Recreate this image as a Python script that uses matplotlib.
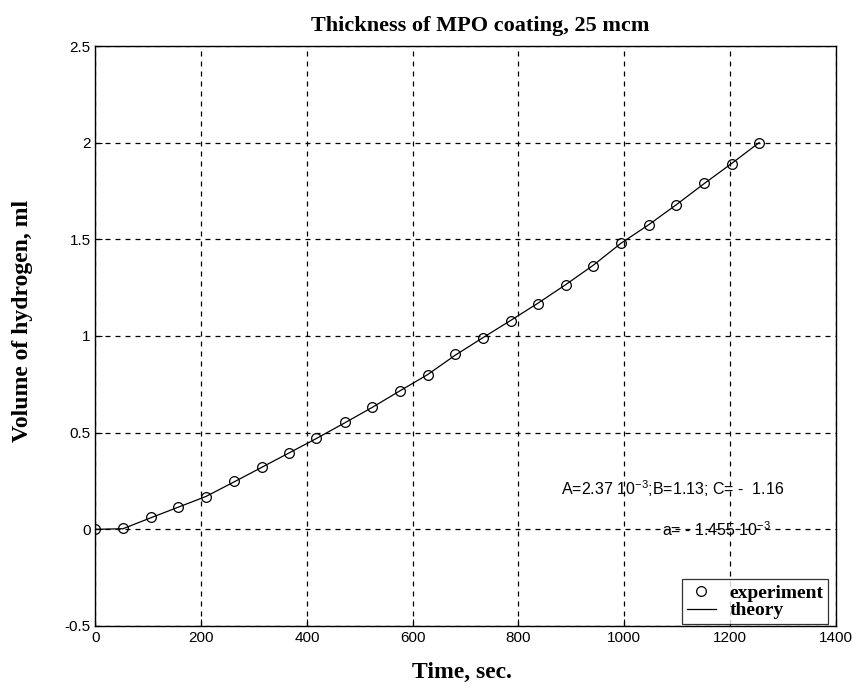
import matplotlib.pyplot as plt
import numpy as np

# time, sec.
time_s = [0, 52, 105, 157, 209, 262, 314, 366, 418, 471, 523, 575, 628,
          680, 732, 785, 837, 889, 941, 994, 1046, 1098, 1151, 1203, 1255]
# measured volume of hydrogen, ml
volume_exp = [0.0, 0.005, 0.063, 0.118, 0.168, 0.248, 0.322, 0.396, 0.472,
              0.553, 0.632, 0.716, 0.796, 0.905, 0.99, 1.08, 1.168, 1.266,
              1.36, 1.483, 1.575, 1.676, 1.79, 1.89, 2.0]
# theoretical curve
volume_theory = [0.0, 0.003, 0.06, 0.115, 0.17, 0.245, 0.32, 0.395, 0.47,
                 0.55, 0.63, 0.715, 0.8, 0.9, 0.99, 1.08, 1.17, 1.265,
                 1.365, 1.48, 1.575, 1.678, 1.788, 1.892, 2.0]

serif = 'Liberation Serif'
sans = 'Liberation Sans'
plt.rcParams['mathtext.fontset'] = 'custom'
plt.rcParams['mathtext.rm'] = sans
plt.rcParams['mathtext.it'] = sans

fig = plt.figure(figsize=(8.54, 6.91), dpi=100)
ax = fig.add_axes([0.1118, 0.0941, 0.8668, 0.8393])

ax.plot(time_s, volume_exp, 'o', mfc='none', mec='black', ms=7, mew=0.9, label='experiment')
ax.plot(time_s, volume_theory, '-', color='black', lw=0.9, label='theory')

ax.set_xlim(0, 1400)
ax.set_ylim(-0.5, 2.5)
ax.set_xticks(np.arange(0, 1401, 200))
ax.set_yticks(np.arange(-0.5, 2.51, 0.5))
ax.set_yticklabels(['-0.5', '0', '0.5', '1', '1.5', '2', '2.5'])
ax.tick_params(direction='in', length=5, labelsize=11, colors='black')
for lab in ax.get_xticklabels() + ax.get_yticklabels():
    lab.set_family(sans)
for sp in ax.spines.values():
    sp.set_linewidth(1.0)

ax.grid(True, linestyle=(0, (4, 4)), color='black', lw=0.9)

ax.set_title('Thickness of MPO coating, 25 mcm', fontsize=16, fontweight='bold',
             family=serif, pad=11, x=0.52)
ax.set_xlabel('Time, sec.', fontsize=17, fontweight='bold', family=serif)
ax.xaxis.set_label_coords(0.495, -0.062)
ax.set_ylabel('Volume of hydrogen, ml', fontsize=17, fontweight='bold', family=serif)
ax.yaxis.set_label_coords(-0.084, 0.526)

ax.text(880, 0.21, r'A=2.37 10$^{-3}$;B=1.13; C= -  1.16', fontsize=11.5,
        family=sans, va='center')
ax.text(1071, 0.0, r'a= - 1.455 10$^{-3}$', fontsize=11.5, family=sans, va='center')

leg = ax.legend(loc='lower right', bbox_to_anchor=(0.99, 0.003),
                prop={'family': serif, 'weight': 'bold', 'size': 14},
                frameon=True, fancybox=False, edgecolor='black', borderaxespad=0.0,
                handlelength=1.5, handletextpad=0.7, borderpad=0.25, labelspacing=0.0)
leg.get_frame().set_linewidth(0.9)

fig.savefig('out.png', dpi=100)
